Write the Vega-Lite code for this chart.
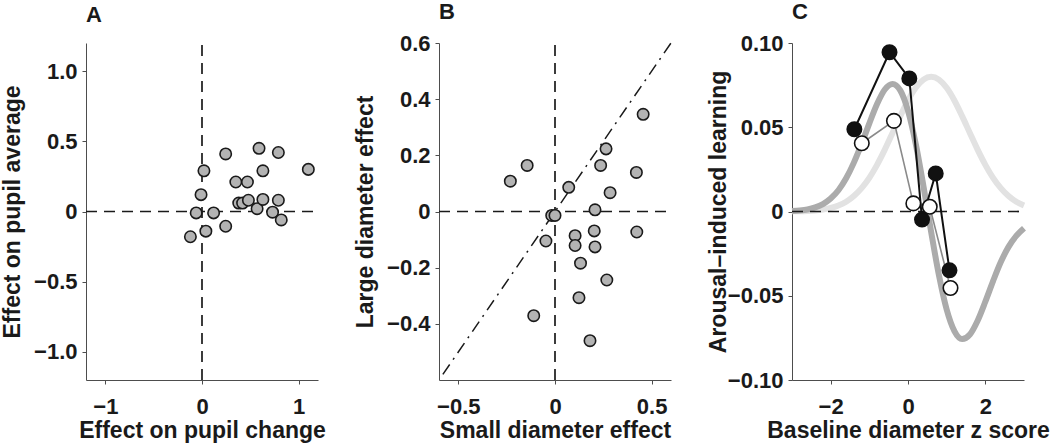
{
  "$schema": "https://vega.github.io/schema/vega-lite/v6.json",
  "background": "white",
  "padding": {"left": 1, "top": 1, "right": 0, "bottom": 0},
  "bounds": "flush",
  "spacing": 121,
  "config": {
    "font": "Liberation Sans",
    "view": {"stroke": null},
    "axis": {
      "grid": false, "domainColor": "#4d4d4d", "domainWidth": 1, "tickColor": "#4d4d4d", "tickSize": 4, "tickWidth": 1,
      "labelFont": "Liberation Sans", "labelFontSize": 22, "labelFontWeight": "bold", "labelColor": "#1a1a1a", "labelPadding": 5, "labelFlush": false,
      "titleFont": "Liberation Sans", "titleFontSize": 23, "titleFontWeight": "bold", "titleColor": "#1a1a1a", "titleBaseline": "alphabetic"
    },
    "axisX": {"labelBaseline": "alphabetic", "labelPadding": 29.5, "titleX": 116, "titleY": 57.5},
    "axisY": {"titleX": -67, "titleY": 168.5},
    "title": {"font": "Liberation Sans", "fontSize": 22, "fontWeight": "bold", "anchor": "start", "frame": "group", "color": "#1a1a1a"}
  },
  "datasets": {
    "aPoints": [
      {"x": -0.12, "y": -0.18}, {"x": -0.06, "y": -0.01}, {"x": -0.01, "y": 0.12}, {"x": 0.02, "y": 0.29},
      {"x": 0.04, "y": -0.14}, {"x": 0.12, "y": -0.01}, {"x": 0.245, "y": 0.41}, {"x": 0.245, "y": -0.105},
      {"x": 0.35, "y": 0.21}, {"x": 0.47, "y": 0.21}, {"x": 0.38, "y": 0.06}, {"x": 0.42, "y": 0.06},
      {"x": 0.48, "y": 0.08}, {"x": 0.57, "y": 0.02}, {"x": 0.59, "y": 0.45}, {"x": 0.63, "y": 0.29},
      {"x": 0.63, "y": 0.086}, {"x": 0.73, "y": -0.005}, {"x": 0.79, "y": 0.42}, {"x": 0.79, "y": 0.08},
      {"x": 0.82, "y": -0.06}, {"x": 1.10, "y": 0.30}
    ],
    "bPoints": [
      {"x": -0.231, "y": 0.108}, {"x": -0.144, "y": 0.164}, {"x": -0.11, "y": -0.371}, {"x": -0.047, "y": -0.105},
      {"x": -0.017, "y": -0.014}, {"x": 0.0, "y": -0.014}, {"x": 0.071, "y": 0.086}, {"x": 0.104, "y": -0.086},
      {"x": 0.104, "y": -0.121}, {"x": 0.132, "y": -0.184}, {"x": 0.124, "y": -0.307}, {"x": 0.181, "y": -0.46},
      {"x": 0.207, "y": 0.006}, {"x": 0.203, "y": -0.069}, {"x": 0.207, "y": -0.126}, {"x": 0.236, "y": 0.164},
      {"x": 0.264, "y": 0.223}, {"x": 0.285, "y": 0.067}, {"x": 0.268, "y": -0.244}, {"x": 0.421, "y": 0.139},
      {"x": 0.423, "y": -0.073}, {"x": 0.456, "y": 0.346}
    ],
    "aVert": [{"x": 0, "y": -1.2, "y2": 1.2}],
    "aHoriz": [{"x": -1.2, "x2": 1.2, "y": 0}],
    "bVert": [{"x": 0, "y": -0.6, "y2": 0.6}],
    "bHoriz": [{"x": -0.6, "x2": 0.6, "y": 0}],
    "bDiag": [{"x": -0.58, "y": -0.58}, {"x": 0.6, "y": 0.6}],
    "cHoriz": [{"x": -3, "x2": 3, "y": 0}],
    "cLight": [
      {"x": -3.0, "y": 0.0001}, {"x": -2.8, "y": 0.00015}, {"x": -2.6, "y": 0.0003}, {"x": -2.4, "y": 0.0006},
      {"x": -2.2, "y": 0.0012}, {"x": -2.0, "y": 0.0021}, {"x": -1.8, "y": 0.0036}, {"x": -1.6, "y": 0.0058},
      {"x": -1.4, "y": 0.0092}, {"x": -1.2, "y": 0.0139}, {"x": -1.0, "y": 0.0200}, {"x": -0.8, "y": 0.0277},
      {"x": -0.6, "y": 0.0367}, {"x": -0.4, "y": 0.0466}, {"x": -0.2, "y": 0.0566}, {"x": 0.0, "y": 0.0659},
      {"x": 0.2, "y": 0.0734}, {"x": 0.4, "y": 0.0783}, {"x": 0.6, "y": 0.0800}, {"x": 0.8, "y": 0.0783},
      {"x": 1.0, "y": 0.0734}, {"x": 1.2, "y": 0.0659}, {"x": 1.4, "y": 0.0566}, {"x": 1.6, "y": 0.0466},
      {"x": 1.8, "y": 0.0367}, {"x": 2.0, "y": 0.0277}, {"x": 2.2, "y": 0.0200}, {"x": 2.4, "y": 0.0139},
      {"x": 2.6, "y": 0.0092}, {"x": 2.8, "y": 0.0058}, {"x": 3.0, "y": 0.0036}
    ],
    "cDark": [
      {"x": -3.0, "y": 0.0003}, {"x": -2.8, "y": 0.0006}, {"x": -2.6, "y": 0.0012}, {"x": -2.4, "y": 0.0024},
      {"x": -2.2, "y": 0.0044}, {"x": -2.0, "y": 0.0077}, {"x": -1.8, "y": 0.0126}, {"x": -1.6, "y": 0.0197},
      {"x": -1.4, "y": 0.0290}, {"x": -1.2, "y": 0.0401}, {"x": -1.0, "y": 0.0523}, {"x": -0.8, "y": 0.0638},
      {"x": -0.6, "y": 0.0724}, {"x": -0.4, "y": 0.0757}, {"x": -0.2, "y": 0.0719}, {"x": 0.0, "y": 0.0598},
      {"x": 0.2, "y": 0.0401}, {"x": 0.4, "y": 0.0150}, {"x": 0.6, "y": -0.0123}, {"x": 0.8, "y": -0.0378},
      {"x": 1.0, "y": -0.0582}, {"x": 1.2, "y": -0.0710}, {"x": 1.4, "y": -0.0757}, {"x": 1.6, "y": -0.0730},
      {"x": 1.8, "y": -0.0648}, {"x": 2.0, "y": -0.0535}, {"x": 2.2, "y": -0.0413}, {"x": 2.4, "y": -0.0300},
      {"x": 2.6, "y": -0.0210}, {"x": 2.8, "y": -0.0145}, {"x": 3.0, "y": -0.0100}
    ],
    "cBlack": [
      {"x": -1.387, "y": 0.0488}, {"x": -0.478, "y": 0.0945}, {"x": 0.034, "y": 0.079},
      {"x": 0.363, "y": -0.0048}, {"x": 0.717, "y": 0.0226}, {"x": 1.073, "y": -0.0349}
    ],
    "cWhite": [
      {"x": -1.195, "y": 0.0405}, {"x": -0.364, "y": 0.0538}, {"x": 0.138, "y": 0.0048},
      {"x": 0.562, "y": 0.0028}, {"x": 1.099, "y": -0.0454}
    ]
  },
  "hconcat": [
    {
      "width": 232, "height": 337,
      "title": {"text": "A", "offset": 15.6},
      "encoding": {
        "x": {"field": "x", "type": "quantitative", "scale": {"domain": [-1.2, 1.2], "nice": false, "zero": false},
              "axis": {"title": "Effect on pupil change", "values": [-1, 0, 1], "labelExpr": "datum.value == 0 ? '0' : format(datum.value, 'd')"}},
        "y": {"field": "y", "type": "quantitative", "scale": {"domain": [-1.2, 1.2], "nice": false, "zero": false},
              "axis": {"title": "Effect on pupil average", "values": [-1, -0.5, 0, 0.5, 1], "labelExpr": "datum.value == 0 ? '0' : format(datum.value, '.1f')"}}
      },
      "layer": [
        {"data": {"name": "aVert"}, "mark": {"type": "rule", "color": "#1a1a1a", "strokeWidth": 1.7, "strokeDash": [11, 7]}, "encoding": {"y2": {"field": "y2"}}},
        {"data": {"name": "aHoriz"}, "mark": {"type": "rule", "color": "#1a1a1a", "strokeWidth": 1.7, "strokeDash": [11, 7]}, "encoding": {"x2": {"field": "x2"}}},
        {"data": {"name": "aPoints"}, "mark": {"type": "point", "shape": "circle", "filled": true, "size": 130, "fill": "#b3b3b3", "stroke": "#1a1a1a", "strokeWidth": 1.6, "opacity": 1}}
      ]
    },
    {
      "width": 232, "height": 337,
      "title": {"text": "B", "offset": 7.6},
      "encoding": {
        "x": {"field": "x", "type": "quantitative", "scale": {"domain": [-0.6, 0.6], "nice": false, "zero": false},
              "axis": {"title": "Small diameter effect", "values": [-0.5, 0, 0.5], "labelExpr": "datum.value == 0 ? '0' : format(datum.value, '.1f')"}},
        "y": {"field": "y", "type": "quantitative", "scale": {"domain": [-0.6, 0.6], "nice": false, "zero": false},
              "axis": {"title": "Large diameter effect", "values": [-0.4, -0.2, 0, 0.2, 0.4, 0.6], "labelExpr": "datum.value == 0 ? '0' : format(datum.value, '.1f')"}}
      },
      "layer": [
        {"data": {"name": "bVert"}, "mark": {"type": "rule", "color": "#1a1a1a", "strokeWidth": 1.7, "strokeDash": [11, 7]}, "encoding": {"y2": {"field": "y2"}}},
        {"data": {"name": "bHoriz"}, "mark": {"type": "rule", "color": "#1a1a1a", "strokeWidth": 1.7, "strokeDash": [11, 7]}, "encoding": {"x2": {"field": "x2"}}},
        {"data": {"name": "bDiag"}, "mark": {"type": "line", "color": "#1a1a1a", "strokeWidth": 1.5, "strokeDash": [12, 6, 2, 6]}},
        {"data": {"name": "bPoints"}, "mark": {"type": "point", "shape": "circle", "filled": true, "size": 130, "fill": "#b3b3b3", "stroke": "#1a1a1a", "strokeWidth": 1.6, "opacity": 1}}
      ]
    },
    {
      "width": 232, "height": 337,
      "title": {"text": "C", "offset": 7.6},
      "encoding": {
        "x": {"field": "x", "type": "quantitative", "scale": {"domain": [-3, 3], "nice": false, "zero": false},
              "axis": {"title": "Baseline diameter z score", "values": [-2, 0, 2], "labelExpr": "datum.value == 0 ? '0' : format(datum.value, 'd')"}},
        "y": {"field": "y", "type": "quantitative", "scale": {"domain": [-0.1, 0.1], "nice": false, "zero": false},
              "axis": {"title": "Arousal–induced learning", "values": [-0.1, -0.05, 0, 0.05, 0.1], "labelExpr": "datum.value == 0 ? '0' : format(datum.value, '.2f')"}}
      },
      "layer": [
        {"data": {"name": "cLight"}, "mark": {"type": "line", "color": "#e2e2e2", "strokeWidth": 6, "interpolate": "monotone"}},
        {"data": {"name": "cDark"}, "mark": {"type": "line", "color": "#ababab", "strokeWidth": 6, "interpolate": "monotone"}},
        {"data": {"name": "cHoriz"}, "mark": {"type": "rule", "color": "#1a1a1a", "strokeWidth": 1.7, "strokeDash": [11, 7]}, "encoding": {"x2": {"field": "x2"}}},
        {"data": {"name": "cWhite"}, "mark": {"type": "line", "color": "#8a8a8a", "strokeWidth": 1.6}},
        {"data": {"name": "cBlack"}, "mark": {"type": "line", "color": "#111111", "strokeWidth": 2}},
        {"data": {"name": "cBlack"}, "mark": {"type": "point", "shape": "circle", "filled": true, "size": 210, "fill": "#111111", "stroke": "#111111", "strokeWidth": 1.5, "opacity": 1}},
        {"data": {"name": "cWhite"}, "mark": {"type": "point", "shape": "circle", "filled": true, "size": 210, "fill": "#ffffff", "stroke": "#111111", "strokeWidth": 1.6, "opacity": 1}}
      ]
    }
  ]
}
